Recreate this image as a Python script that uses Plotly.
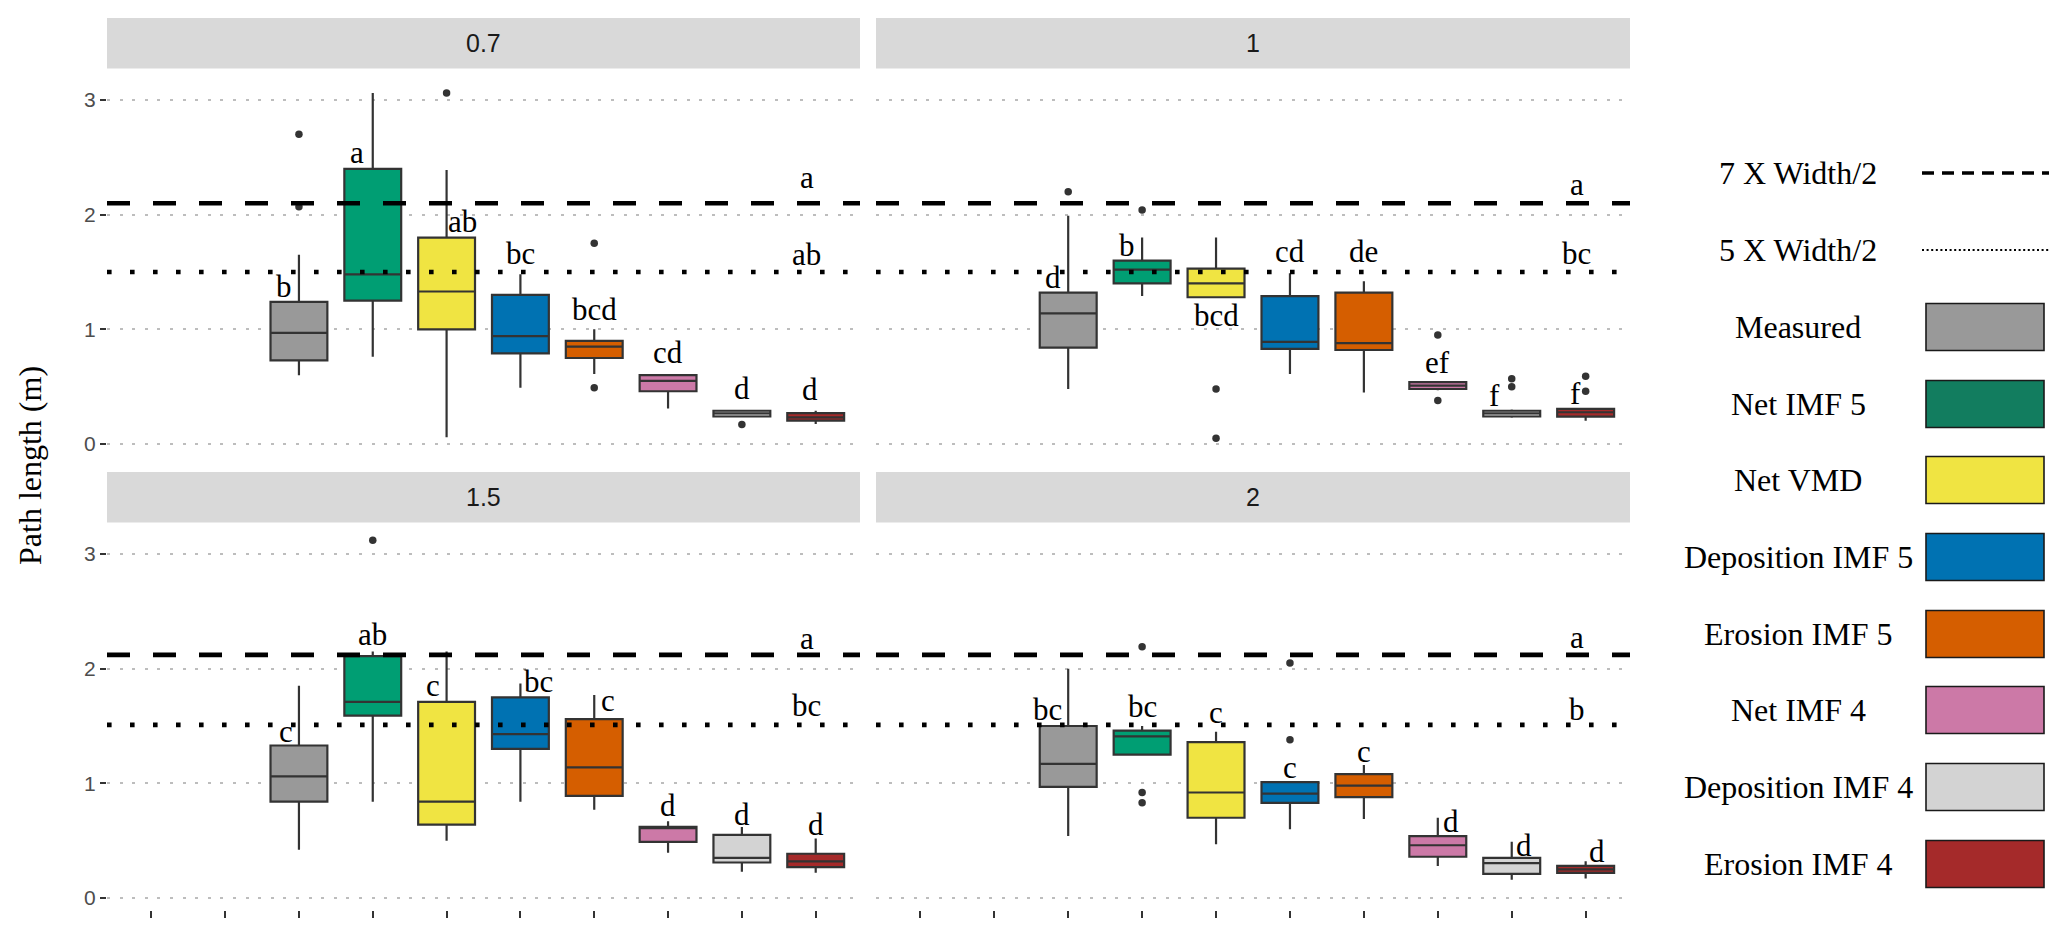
import plotly.graph_objects as go

# ---------------- data ----------------
categories = ["7 X Width/2", "5 X Width/2", "Measured", "Net IMF 5", "Net VMD",
              "Deposition IMF 5", "Erosion IMF 5", "Net IMF 4", "Deposition IMF 4", "Erosion IMF 4"]
methods = categories[2:]
facets = ["0.7", "1", "1.5", "2"]

box_fill = ["#999999", "#009E73", "#F0E442", "#0072B2", "#D55E00", "#CC79A7", "#D3D3D3", "#A52A2A"]
legend_fill = ["#999999", "#127D5F", "#F0E442", "#0072B2", "#D55E00", "#CC79A7", "#D3D3D3", "#A52A2A"]

# facet 0.7
lo_07 = [0.60, 0.76, 0.06, 0.49, 0.61, 0.31, 0.24, 0.175]
q1_07 = [0.73, 1.25, 1.00, 0.79, 0.75, 0.46, 0.24, 0.204]
med_07 = [0.97, 1.48, 1.33, 0.94, 0.85, 0.55, 0.268, 0.233]
q3_07 = [1.24, 2.40, 1.80, 1.30, 0.90, 0.60, 0.29, 0.27]
hi_07 = [1.65, 3.06, 2.39, 1.48, 1.00, 0.61, 0.297, 0.29]
out_07 = [[2.70, 2.07], [], [3.06], [], [1.75, 0.49], [], [0.17], []]
letters_07 = ["b", "a", "ab", "bc", "bcd", "cd", "d", "d"]
letter_y_07 = [1.28, 2.45, 1.85, 1.57, 1.08, 0.705, 0.39, 0.38]

# facet 1
lo_1 = [0.48, 1.29, 1.28, 0.61, 0.45, 0.47, 0.23, 0.204]
q1_1 = [0.84, 1.40, 1.28, 0.83, 0.82, 0.48, 0.24, 0.239]
med_1 = [1.14, 1.52, 1.40, 0.89, 0.88, 0.51, 0.268, 0.277]
q3_1 = [1.32, 1.60, 1.53, 1.29, 1.32, 0.539, 0.29, 0.306]
hi_1 = [1.99, 1.80, 1.80, 1.49, 1.42, 0.55, 0.30, 0.31]
out_1 = [[2.20], [2.04], [0.48, 0.05], [], [], [0.95, 0.38], [0.57, 0.50], [0.59, 0.46]]
letters_1 = ["d", "b", "bcd", "cd", "de", "ef", "f", "f"]
letter_y_1 = [1.36, 1.64, 1.03, 1.59, 1.59, 0.62, 0.33, 0.345]

# facet 1.5
lo_15 = [0.42, 0.84, 0.50, 0.84, 0.77, 0.395, 0.23, 0.22]
q1_15 = [0.84, 1.59, 0.64, 1.30, 0.89, 0.49, 0.31, 0.27]
med_15 = [1.06, 1.71, 0.84, 1.43, 1.14, 0.61, 0.35, 0.32]
q3_15 = [1.33, 2.11, 1.71, 1.75, 1.56, 0.62, 0.55, 0.386]
hi_15 = [1.85, 2.15, 2.15, 1.87, 1.77, 0.67, 0.62, 0.52]
out_15 = [[], [3.12], [], [], [], [], [], []]
letters_15 = ["c", "ab", "c", "bc", "c", "d", "d", "d"]
letter_y_15 = [1.36, 2.21, 1.76, 1.795, 1.63, 0.716, 0.64, 0.55]

# facet 2
lo_2 = [0.54, 1.25, 0.47, 0.60, 0.69, 0.28, 0.16, 0.17]
q1_2 = [0.97, 1.25, 0.70, 0.83, 0.88, 0.36, 0.21, 0.22]
med_2 = [1.17, 1.41, 0.92, 0.91, 0.98, 0.46, 0.305, 0.25]
q3_2 = [1.50, 1.46, 1.36, 1.01, 1.08, 0.54, 0.35, 0.28]
hi_2 = [2.00, 1.50, 1.45, 1.01, 1.16, 0.70, 0.49, 0.32]
out_2 = [[], [2.19, 0.92, 0.83], [], [2.05, 1.38], [], [], [], []]
letters_2 = ["bc", "bc", "c", "c", "c", "d", "d", "d"]
letter_y_2 = [1.55, 1.58, 1.53, 1.05, 1.19, 0.58, 0.37, 0.31]

# reference lines (7 x width/2 dashed, 5 x width/2 dotted) and their letters
dashed_y = [2.10, 2.10, 2.12, 2.12]
dotted_y = [1.50, 1.50, 1.51, 1.51]
dashed_letter = ["a", "a", "a", "a"]
dotted_letter = ["ab", "bc", "bc", "b"]
dashed_letter_y = [2.23, 2.17, 2.17, 2.18]
dotted_letter_y = [1.56, 1.57, 1.59, 1.55]

# ---------------- styling / placement ----------------
letter_dx = [
    [-0.20, -0.22, 0.21, 0, 0, 0, 0, -0.08],
    [-0.20, -0.20, 0, 0, 0, 0, -0.23, -0.14],
    [-0.17, 0, -0.18, 0.24, 0.19, 0, 0, 0],
    [-0.28, 0, 0, 0, 0, 0.18, 0.16, 0.15],
]
line_letter_dx = -0.12

W, H = 2067, 935
def px_x(p):
    return p / W
def px_y(p):
    return 1 - p / H

x_domains = [[px_x(107), px_x(860)], [px_x(876), px_x(1630)]]
y_domains = [[px_y(455.9), px_y(68.6)], [px_y(909.9), px_y(522.6)]]
strip_px = [(18, 68.6), (472, 522.6)]
YR = [-0.1035, 3.2735]

SERIF = "Liberation Serif"
SANS = "Liberation Sans"
EDGE = "#333333"

panel_stats = [
    (lo_07, q1_07, med_07, q3_07, hi_07, out_07, letters_07, letter_y_07),
    (lo_1, q1_1, med_1, q3_1, hi_1, out_1, letters_1, letter_y_1),
    (lo_15, q1_15, med_15, q3_15, hi_15, out_15, letters_15, letter_y_15),
    (lo_2, q1_2, med_2, q3_2, hi_2, out_2, letters_2, letter_y_2),
]

fig = go.Figure()
annotations = []
shapes = []

def letter_ann(x, y, xa, ya, text):
    return dict(x=x, y=y, xref=xa, yref=ya, text=text, showarrow=False,
                xanchor="center", yanchor="bottom", yshift=-9,
                font=dict(family=SERIF, size=31, color="black"))

for k, (lo, q1, med, q3, hi, outs, lets, lety) in enumerate(panel_stats):
    sfx = "" if k == 0 else str(k + 1)
    xa, ya = "x" + sfx, "y" + sfx
    for i, m in enumerate(methods):
        fig.add_trace(go.Box(
            x=[m], q1=[q1[i]], median=[med[i]], q3=[q3[i]],
            lowerfence=[lo[i]], upperfence=[hi[i]],
            fillcolor=box_fill[i], line=dict(color=EDGE, width=2.2),
            whiskerwidth=0, width=0.77, boxpoints=False,
            xaxis=xa, yaxis=ya, showlegend=False, hoverinfo="skip",
        ))
        if outs[i]:
            fig.add_trace(go.Scatter(
                x=[m] * len(outs[i]), y=outs[i], mode="markers",
                marker=dict(color=EDGE, size=7.5),
                xaxis=xa, yaxis=ya, showlegend=False, hoverinfo="skip",
            ))
        annotations.append(letter_ann(categories.index(m) + letter_dx[k][i], lety[i], xa, ya, lets[i]))
    # reference lines
    shapes.append(dict(type="line", xref=xa + " domain", yref=ya, x0=0, x1=1,
                       y0=dashed_y[k], y1=dashed_y[k],
                       line=dict(color="black", width=4.6, dash="23px,23px")))
    shapes.append(dict(type="line", xref=xa + " domain", yref=ya, x0=0, x1=1,
                       y0=dotted_y[k], y1=dotted_y[k],
                       line=dict(color="black", width=4.6, dash="4.6px,18.4px")))
    lx = len(categories) - 1 + line_letter_dx
    annotations.append(letter_ann(lx, dashed_letter_y[k], xa, ya, dashed_letter[k]))
    annotations.append(letter_ann(lx, dotted_letter_y[k], xa, ya, dotted_letter[k]))

    col, row = k % 2, k // 2
    # strip
    s0, s1 = strip_px[row]
    shapes.append(dict(type="rect", xref="paper", yref="paper",
                       x0=x_domains[col][0], x1=x_domains[col][1],
                       y0=px_y(s1), y1=px_y(s0), fillcolor="#D9D9D9",
                       line=dict(width=0), layer="below"))
    annotations.append(dict(x=sum(x_domains[col]) / 2, y=px_y((s0 + s1) / 2),
                            xref="paper", yref="paper", text=facets[k], showarrow=False,
                            xanchor="center", yanchor="middle",
                            font=dict(family=SANS, size=25, color="#1A1A1A")))

    xaxis = dict(domain=x_domains[col], type="category", categoryorder="array",
                 categoryarray=categories, range=[-0.6, len(categories) - 0.4],
                 showgrid=False, zeroline=False, showline=False, showticklabels=False,
                 anchor=ya, fixedrange=True)
    if row == 1:
        xaxis.update(ticks="outside", ticklen=7, tickwidth=2, tickcolor=EDGE)
    else:
        xaxis.update(ticks="")
    yaxis = dict(domain=y_domains[row], range=YR, tickvals=[0, 1, 2, 3],
                 showgrid=True, gridcolor="#BDBDBD", gridwidth=2.2, griddash="3px,9.6px",
                 zeroline=False, showline=False, anchor=xa, fixedrange=True)
    if col == 0:
        yaxis.update(ticks="outside", ticklen=6, tickwidth=2, tickcolor=EDGE,
                     tickfont=dict(family=SANS, size=21, color="#4D4D4D"))
    else:
        yaxis.update(ticks="", showticklabels=False)
    fig.layout["xaxis" + sfx] = xaxis
    fig.layout["yaxis" + sfx] = yaxis

# y-axis title
annotations.append(dict(x=px_x(30), y=px_y(466), xref="paper", yref="paper",
                        text="Path length (m)", textangle=-90, showarrow=False,
                        xanchor="center", yanchor="middle",
                        font=dict(family=SERIF, size=32, color="black")))

# legend (drawn manually to match the layout)
legend_labels = ["7 X Width/2", "5 X Width/2"] + methods
legend_rows = [173, 250, 327, 404, 480, 557, 634, 710, 787, 864]
for j, lab in enumerate(legend_labels):
    yc = legend_rows[j]
    annotations.append(dict(x=px_x(1798), y=px_y(yc), xref="paper", yref="paper",
                            text=lab, showarrow=False, xanchor="center", yanchor="middle",
                            font=dict(family=SERIF, size=32, color="black")))
    if j == 0:
        shapes.append(dict(type="line", xref="paper", yref="paper",
                           x0=px_x(1922), x1=px_x(2049), y0=px_y(yc), y1=px_y(yc),
                           line=dict(color="black", width=3.3, dash="12px,8px")))
    elif j == 1:
        shapes.append(dict(type="line", xref="paper", yref="paper",
                           x0=px_x(1922), x1=px_x(2049), y0=px_y(yc), y1=px_y(yc),
                           line=dict(color="black", width=2.2, dash="2px,2.6px")))
    else:
        shapes.append(dict(type="rect", xref="paper", yref="paper",
                           x0=px_x(1926), x1=px_x(2044), y0=px_y(yc + 23.5), y1=px_y(yc - 23.5),
                           fillcolor=legend_fill[j - 2], line=dict(color="#1A1A1A", width=1.6)))

fig.update_layout(
    width=W, height=H, margin=dict(l=0, r=0, t=0, b=0, autoexpand=False),
    paper_bgcolor="white", plot_bgcolor="white",
    showlegend=False, annotations=annotations, shapes=shapes,
    boxmode="overlay",
)

fig.write_html("out.html", config={"displayModeBar": False},
               post_script="document.body.style.margin='0';document.body.style.overflow='hidden';")
